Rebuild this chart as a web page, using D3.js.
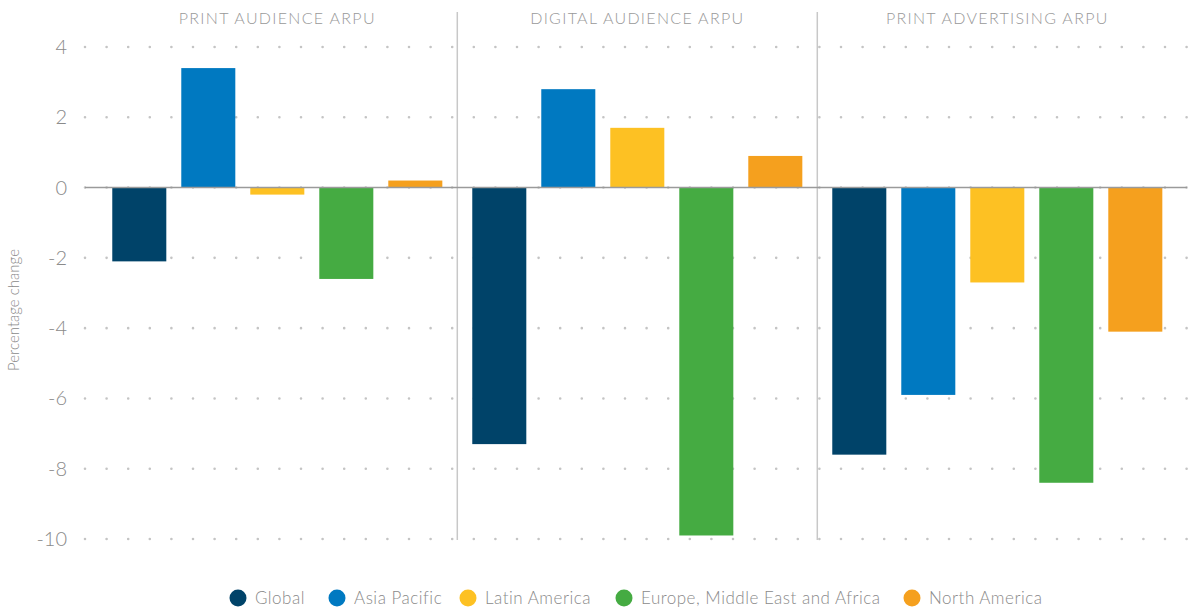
<!doctype html>
<html>

<head>
    <meta charset="utf-8">
    <title>ARPU change by region</title>
    <style>
        body { margin: 0; background: #fff; }
        text { font-family: Lato, "Open Sans", sans-serif; font-weight: 300; }
    </style>
</head>

<body>
    <script src="https://d3js.org/d3.v7.min.js"></script>
    <script>
        // data
        var panels = ["PRINT AUDIENCE ARPU", "DIGITAL AUDIENCE ARPU", "PRINT ADVERTISING ARPU"];
        var regions = ["Global", "Asia Pacific", "Latin America", "Europe, Middle East and Africa", "North America"];
        var colors = ["#004369", "#0079c1", "#fdc123", "#45ab42", "#f5a01e"];
        var printAudience = [-2.1, 3.4, -0.2, -2.6, 0.2];
        var digitalAudience = [-7.3, 2.8, 1.7, -9.9, 0.9];
        var printAdvertising = [-7.6, -5.9, -2.7, -8.4, -4.1];
        var yTicks = [4, 2, 0, -2, -4, -6, -8, -10];

        var values = [printAudience, digitalAudience, printAdvertising];

        var w = 1194;
        var h = 613;

        var svg = d3.select("body")
            .append("svg")
            .attr("width", w)
            .attr("height", h);

        var y = d3.scaleLinear()
            .domain([-10, 4])
            .range([539, 47]);

        // panels
        var px = d3.scaleBand()
            .domain(panels)
            .range([97.3, 1177.3]);

        var x = d3.scaleBand()
            .domain(regions)
            .range([0, px.bandwidth()])
            .paddingInner(0.217)
            .paddingOuter(0.217);

        var color = d3.scaleOrdinal()
            .domain(regions)
            .range(colors);

        // dotted grid
        svg.append("g")
            .selectAll("line")
            .data(yTicks)
            .enter()
            .append("line")
            .attr("x1", 85)
            .attr("x2", 1192)
            .attr("y1", function (d) { return y(d); })
            .attr("y2", function (d) { return y(d); })
            .style("stroke", "#c4c4c4")
            .style("stroke-width", 2.6)
            .style("stroke-linecap", "round")
            .style("stroke-dasharray", "0 21.6");

        // y labels
        svg.append("g")
            .selectAll("text")
            .data(yTicks)
            .enter()
            .append("text")
            .attr("x", 67)
            .attr("y", function (d) { return y(d); })
            .attr("dy", "0.35em")
            .attr("text-anchor", "end")
            .style("font-size", "20px")
            .style("fill", "#8a8a8a")
            .text(function (d) { return d; });

        svg.append("text")
            .attr("transform", "translate(19," + 310 + ") rotate(-90)")
            .attr("text-anchor", "middle")
            .style("font-size", "15px")
            .style("fill", "#8a8a8a")
            .text("Percentage change");

        // separators
        svg.append("g")
            .selectAll("line")
            .data(panels.slice(1))
            .enter()
            .append("line")
            .attr("x1", function (d) { return px(d); })
            .attr("x2", function (d) { return px(d); })
            .attr("y1", 12)
            .attr("y2", 540)
            .style("stroke", "#c8c8c8")
            .style("stroke-width", 1.5);

        // panel titles
        svg.append("g")
            .selectAll("text")
            .data(panels)
            .enter()
            .append("text")
            .attr("x", function (d) { return px(d) + px.bandwidth() / 2; })
            .attr("y", 24)
            .attr("text-anchor", "middle")
            .style("font-size", "16px")
            .style("letter-spacing", "1.3px")
            .style("fill", "#999")
            .text(function (d) { return d; });

        // bars
        panels.forEach(function (p, i) {
            var g = svg.append("g")
                .attr("transform", "translate(" + px(p) + ",0)");
            g.selectAll("rect")
                .data(values[i])
                .enter()
                .append("rect")
                .attr("x", function (d, j) { return x(regions[j]); })
                .attr("width", x.bandwidth())
                .attr("y", function (d) { return y(Math.max(0, d)); })
                .attr("height", function (d) { return Math.abs(y(d) - y(0)); })
                .style("fill", function (d, j) { return color(regions[j]); });
        });

        // zero line
        svg.append("line")
            .attr("x1", 85)
            .attr("x2", 1187)
            .attr("y1", y(0))
            .attr("y2", y(0))
            .style("stroke", "#9a9a9a")
            .style("stroke-width", 1.6);

        // legend
        var legendX = [238, 337, 468, 624, 912];
        var legend = svg.append("g")
            .selectAll("g")
            .data(regions)
            .enter()
            .append("g")
            .attr("transform", function (d, i) { return "translate(" + legendX[i] + ",598)"; });

        legend.append("circle")
            .attr("r", 8.5)
            .style("fill", function (d) { return color(d); });

        legend.append("text")
            .attr("x", 17)
            .attr("dy", "0.35em")
            .style("font-size", "17px")
            .style("letter-spacing", "0.5px")
            .style("fill", "#8a8a8a")
            .text(function (d) { return d; });
    </script>
</body>

</html>
